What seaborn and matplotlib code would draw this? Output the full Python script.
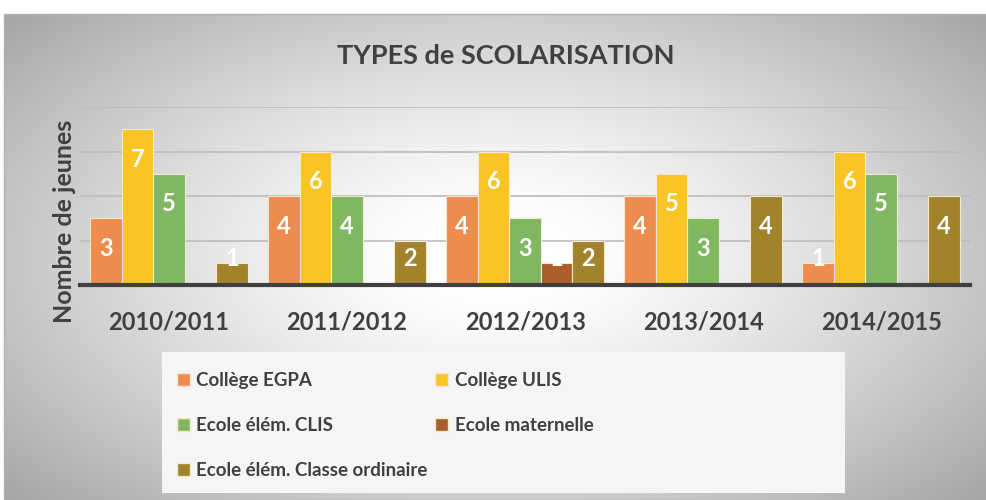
import numpy as np
import pandas as pd
import matplotlib
matplotlib.use("Agg")
import matplotlib.pyplot as plt
import seaborn as sns
from matplotlib.patches import Rectangle, Patch

# ---- données ----
annees = ["2010/2011", "2011/2012", "2012/2013", "2013/2014", "2014/2015"]
series = ["Collège EGPA", "Collège ULIS", "Ecole élém. CLIS",
          "Ecole maternelle", "Ecole élém. Classe ordinaire"]
egpa = [3, 4, 4, 4, 1]
ulis = [7, 6, 6, 5, 6]
clis = [5, 4, 3, 3, 5]
maternelle = [0, 0, 1, 0, 0]
ordinaire = [1, 2, 2, 4, 4]
couleurs = ["#EE8C4F", "#FBC425", "#80B862", "#AC5D2C", "#A2822A"]

valeurs = [egpa, ulis, clis, maternelle, ordinaire]
df = pd.DataFrame([
    {"Année": a, "Type": s, "Nombre": v}
    for s, vals in zip(series, valeurs) for a, v in zip(annees, vals)
])

sns.set_style("white")
plt.rcParams['font.family'] = ['Lato', 'DejaVu Sans']
GRIS = "#404040"

fig = plt.figure(figsize=(9.87, 5.0), dpi=100)

# fond dégradé (radial, blanc au centre, gris aux bords)
bg = fig.add_axes([0.004, 0.0, 0.996, 0.972], zorder=-10)
yy, xx = np.mgrid[-1:1:300j, -1:1:600j]
r = np.sqrt(xx ** 2 + (yy / 1.1) ** 2)
g = np.clip(1.0 - 0.27 * np.clip(r - 0.12, 0, None) ** 1.3, 0, 1)
bg.imshow(np.dstack([g, g, g]), aspect="auto", extent=[0, 1, 0, 1])
bg.set_axis_off()
fig.patches.append(Rectangle((0.004, 0.0), 0.996, 0.972, transform=fig.transFigure,
                             fill=False, edgecolor="#b0b0b0", linewidth=1, zorder=-9))

ax = fig.add_axes([0.081, 0.43, 0.902, 0.356])
ax.patch.set_alpha(0)
sns.barplot(data=df, x="Année", y="Nombre", hue="Type", hue_order=series,
            palette=couleurs, width=0.885, edgecolor="#f3e9d0", linewidth=0.8,
            saturation=1, legend=False, ax=ax, zorder=3)

ax.set_ylim(0, 8)
ax.set_xlim(-0.5, 4.5)
ax.set_yticks([0, 2, 4, 6, 8])
ax.yaxis.grid(True, color="#bcbcbc", linewidth=1.2, zorder=0)
ax.set_yticklabels([])
ax.tick_params(axis="y", length=0)
ax.tick_params(axis="x", length=0, pad=18)
for s in ["top", "right", "left"]:
    ax.spines[s].set_visible(False)
ax.spines["bottom"].set_color(GRIS)
ax.spines["bottom"].set_linewidth(3)
ax.spines["bottom"].set_zorder(5)
for lbl in ax.get_xticklabels():
    lbl.set_fontsize(17)
    lbl.set_fontweight("bold")
    lbl.set_color(GRIS)
ax.set_xlabel("")
ax.set_ylabel("Nombre de jeunes", fontsize=18, fontweight="bold", color=GRIS)
ax.yaxis.set_label_coords(-0.004, 0.36)

# étiquettes de valeurs
for p in ax.patches:
    h = p.get_height()
    if h == 0:
        p.set_visible(False)
        continue
    ypos = max(h - 1.35, 1.2)
    ax.text(p.get_x() + p.get_width() / 2, ypos, f"{int(h)}", ha="center",
            va="center", color="white", fontsize=17, fontweight="bold", zorder=6)

fig.text(0.512, 0.888, "TYPES de SCOLARISATION", ha="center", va="center",
         fontsize=19.5, fontweight="bold", color=GRIS)

# légende
fig.patches.append(Rectangle((0.164, 0.014), 0.692, 0.282, transform=fig.transFigure,
                             facecolor="#f5f5f5", edgecolor="none", zorder=-5))
ordre = [0, 2, 4, 1, 3]
handles = [Patch(facecolor=couleurs[i], edgecolor="#f3e9d0") for i in ordre]
labels = [series[i] for i in ordre]
leg = fig.legend(handles, labels, ncol=2, loc="upper left",
                 bbox_to_anchor=(0.162, 0.29), frameon=False,
                 prop={"size": 13.5, "weight": "bold"}, labelcolor=GRIS,
                 handlelength=0.7, handleheight=0.7, handletextpad=0.35,
                 columnspacing=0.4, labelspacing=1.5)

fig.savefig("out.png", dpi=100)
